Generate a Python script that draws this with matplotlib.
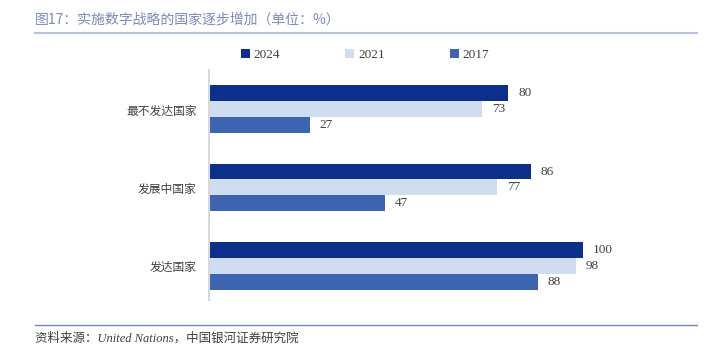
import numpy as np
import matplotlib.pyplot as plt

# data
categories = ['最不发达国家', '发展中国家', '发达国家']
years = ['2024', '2021', '2017']
v2024 = [80, 86, 100]
v2021 = [73, 77, 98]
v2017 = [27, 47, 88]
colors = ['#0b2f8a', '#d0dcf0', '#3d64b0']

cjk = ['Noto Sans CJK SC', 'DejaVu Sans']
serif = ['Liberation Serif', 'Noto Sans CJK SC', 'DejaVu Serif']

W, H = 707, 355
fig = plt.figure(figsize=(W / 100, H / 100), dpi=100)

# axes placed in pixel coordinates
left, right, top, bottom = 209, 658, 70, 300
ax = fig.add_axes([left / W, 1 - bottom / H, (right - left) / W, (bottom - top) / H])

y = np.arange(len(categories))
h = 0.205
offsets = [-h, 0, h]
for vals, off, c, lab in zip([v2024, v2021, v2017], offsets, colors, years):
    bars = ax.barh(y + off, vals, height=h, color=c, label=lab)
    for b, v in zip(bars, vals):
        ax.annotate(str(v), (b.get_width(), b.get_y() + b.get_height() / 2),
                    xytext=(7, 0), textcoords='offset points', va='center', ha='left',
                    fontsize=9.5, family=serif, color='#404040')

ax.set_xlim(0, 120)
ax.set_ylim(2.442, -0.506)
ax.set_yticks(y)
ax.set_yticklabels(categories, family=cjk, fontsize=8.5, color='#404040')
ax.tick_params(axis='y', length=0, pad=9)
ax.set_xticks([])
for s in ['top', 'right', 'bottom']:
    ax.spines[s].set_visible(False)
ax.spines['left'].set_color('#d9d9d9')
ax.spines['left'].set_linewidth(1.5)

leg = ax.legend(loc='lower left', bbox_to_anchor=(0.05, 1.0), ncol=3, frameon=False,
                prop={'family': serif, 'size': 9.5}, handlelength=0.7, handleheight=0.7,
                columnspacing=4.9, handletextpad=0.3, borderaxespad=0.3)
for t in leg.get_texts():
    t.set_color('#404040')

# header and footer
fig.text(35 / W, 1 - 20 / H, '图17：实施数字战略的国家逐步增加（单位：%）', family=cjk,
         fontsize=10, color='#7b8bb8', va='center', ha='left')
fig.add_artist(plt.Line2D([35 / W, 697 / W], [1 - 33 / H, 1 - 33 / H], color='#b7c0dc', lw=1.5))
fig.add_artist(plt.Line2D([35 / W, 697 / W], [1 - 325 / H, 1 - 325 / H], color='#7088c0', lw=1))
fig.text(35 / W, 1 - 338 / H, '资料来源：United Nations，中国银河证券研究院', family=serif,
         fontsize=9, color='#404040', style='italic', va='center', ha='left')

fig.savefig('out.png', dpi=100)
